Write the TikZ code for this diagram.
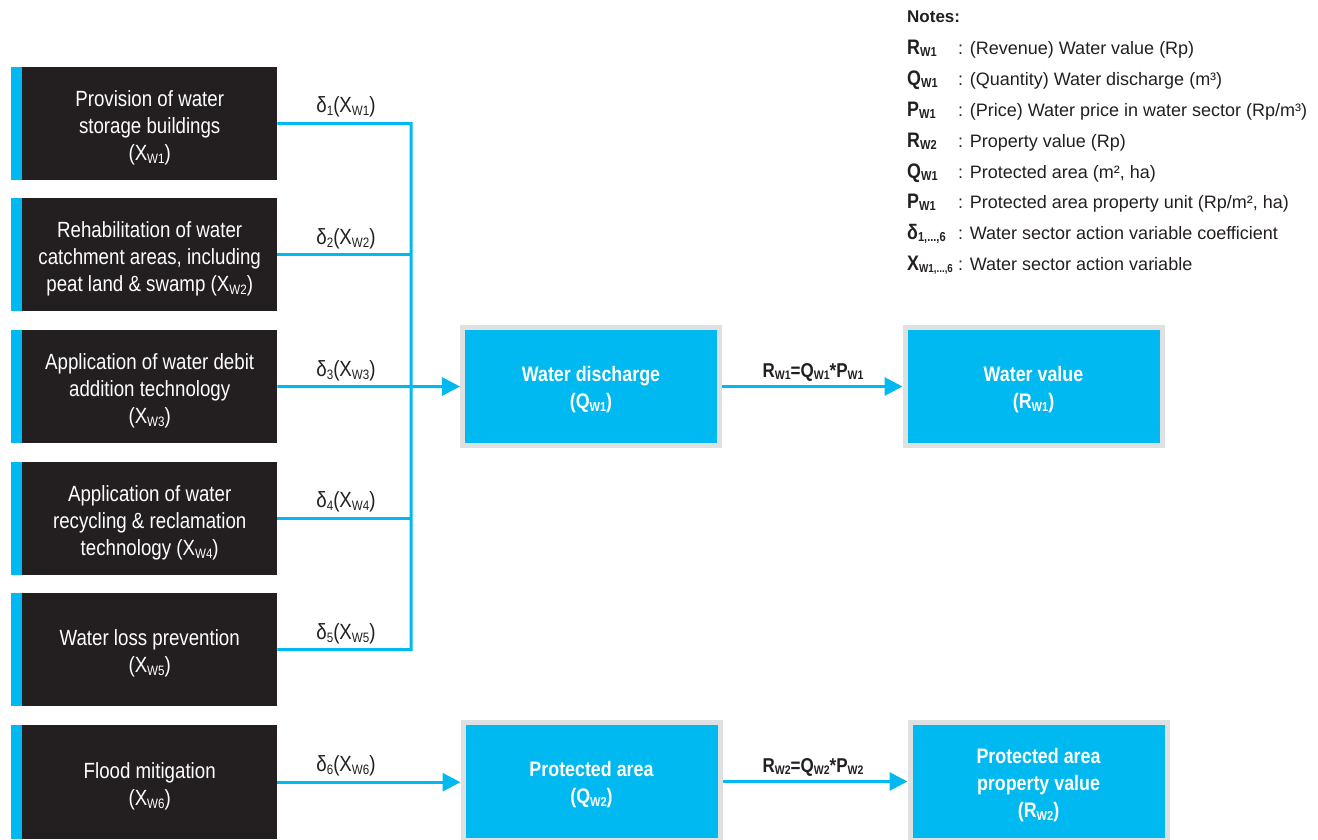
\documentclass[tikz,border=0pt]{standalone}
\usepackage{fontspec}
\usepackage{graphicx}
\setmainfont{Liberation Sans}
\newfontfamily\cond{Liberation Sans}[FakeStretch=0.85]
\usetikzlibrary{arrows.meta}
\definecolor{cblue}{HTML}{00B9F1}
\definecolor{cdark}{HTML}{231F20}
\definecolor{cgray}{HTML}{DFE0E1}
\definecolor{ctext}{HTML}{231F20}
\newcommand\lsb[1]{\raisebox{-0.14em}{\scalebox{0.62}{#1}}}
\begin{document}
\begin{tikzpicture}[x=1pt,y=-1pt,
 actbox/.style={fill=cdark,minimum width=255pt,minimum height=113pt,inner sep=0pt,anchor=north west},
 acttext/.style={text=white,inner sep=0pt,align=center,yshift=-4pt,font=\cond\fontsize{22}{27}\selectfont},
 outbox/.style={fill=cblue,draw=cgray,line width=5pt,minimum width=257pt,minimum height=118pt,inner sep=0pt},
 outtext/.style={text=white,inner sep=0pt,align=center,yshift=-3pt,font=\cond\bfseries\fontsize{21}{27}\selectfont},
 link/.style={draw=cblue,line width=3pt},
 arr/.style={link,-{Triangle[length=18pt,width=18pt]}},
 dlab/.style={font=\cond\fontsize{22}{24}\selectfont,text=ctext,anchor=base,inner sep=0pt},
 flab/.style={font=\cond\bfseries\fontsize{20}{22}\selectfont,text=ctext,anchor=base,inner sep=0pt},
 note/.style={anchor=base west,inner sep=0pt,font=\fontsize{18}{20}\selectfont,text=ctext},
 nsym/.style={anchor=base west,inner sep=0pt,font=\cond\bfseries\fontsize{21}{22}\selectfont,text=ctext}]
\useasboundingbox (0,0) rectangle (1318,839);
\clip (0,0) rectangle (1318,839);

% action boxes
\node[actbox] (b1) at (22,67) {};
\node[actbox] (b2) at (22,198) {};
\node[actbox] (b3) at (22,330) {};
\node[actbox] (b4) at (22,462) {};
\node[actbox] (b5) at (22,593) {};
\node[actbox,minimum height=114pt] (b6) at (22,725) {};
\foreach \b in {b1,b2,b3,b4,b5,b6}
  \fill[cblue] (\b.north west) rectangle ([xshift=-11pt]\b.south west);
\node[acttext] (b1t) at (b1.center) {Provision of water\\storage buildings\\(X\lsb{W1})};
\node[acttext] (b2t) at (b2.center) {Rehabilitation of water\\catchment areas, including\\peat land \& swamp (X\lsb{W2})};
\node[acttext] (b3t) at (b3.center) {Application of water debit\\addition technology\\(X\lsb{W3})};
\node[acttext] (b4t) at (b4.center) {Application of water\\recycling \& reclamation\\technology (X\lsb{W4})};
\node[acttext] (b5t) at (b5.center) {Water loss prevention\\(X\lsb{W5})};
\node[acttext] (b6t) at ([yshift=-0.5pt]b6.center) {Flood mitigation\\(X\lsb{W6})};

% output boxes
\node[outbox] (wd) at (591,386.5) {};
\node[outbox] (wv) at (1033.5,386.5) {};
\node[outbox] (pa) at (591.5,781.5) {};
\node[outbox] (pv) at (1038.5,781.5) {};
\node[outtext] (wdt) at (wd.center) {Water discharge\\(Q\lsb{W1})};
\node[outtext] (wvt) at (wv.center) {Water value\\(R\lsb{W1})};
\node[outtext] (pat) at (pa.center) {Protected area\\(Q\lsb{W2})};
\node[outtext] (pvt) at ([yshift=-1pt]pv.center) {Protected area\\property value\\(R\lsb{W2})};

% connectors
\coordinate (jt) at (411,123.5);
\coordinate (jb) at (411,649.5);
\draw[link] (b1.east) -- (jt) -- (jb) -- (b5.east);
\draw[link] (b2.east) -- (b2.east -| jt);
\draw[link] (b4.east) -- (b4.east -| jt);
\draw[arr] (b3.east) -- (wd.west);
\draw[arr] (wd.east) -- (wv.west);
\draw[arr] (b6.east) -- (b6.east -| pa.west);
\draw[arr] (pa.east) -- (pv.west);

% labels
\node[dlab] (l1) at (346,112) {δ\lsb{1}(X\lsb{W1})};
\node[dlab] (l2) at (346,244) {δ\lsb{2}(X\lsb{W2})};
\node[dlab] (l3) at (346,376) {δ\lsb{3}(X\lsb{W3})};
\node[dlab] (l4) at (346,507) {δ\lsb{4}(X\lsb{W4})};
\node[dlab] (l5) at (346,639) {δ\lsb{5}(X\lsb{W5})};
\node[dlab] (l6) at (346,771) {δ\lsb{6}(X\lsb{W6})};
\node[flab] (f1) at (813,377) {R\lsb{W1}=Q\lsb{W1}*P\lsb{W1}};
\node[flab] (f2) at (813,772) {R\lsb{W2}=Q\lsb{W2}*P\lsb{W2}};

% notes
\node[note,font=\bfseries\fontsize{17}{18}\selectfont] (nh) at (907,22) {Notes:};
\node[nsym] (s1) at (907,54) {R\lsb{W1}};
\node[note] (t1) at (958,54) {: (Revenue) Water value (Rp)};
\node[nsym] (s2) at (907,85) {Q\lsb{W1}};
\node[note] (t2) at (958,85) {: (Quantity) Water discharge (m³)};
\node[nsym] (s3) at (907,116) {P\lsb{W1}};
\node[note] (t3) at (958,116) {: (Price) Water price in water sector (Rp/m³)};
\node[nsym] (s4) at (907,147) {R\lsb{W2}};
\node[note] (t4) at (958,147) {: Property value (Rp)};
\node[nsym] (s5) at (907,178) {Q\lsb{W1}};
\node[note] (t5) at (958,178) {: Protected area (m², ha)};
\node[nsym] (s6) at (907,208) {P\lsb{W1}};
\node[note] (t6) at (958,208) {: Protected area property unit (Rp/m², ha)};
\node[nsym] (s7) at (907,239) {δ\lsb{1,...,6}};
\node[note] (t7) at (958,239) {: Water sector action variable coefficient};
\node[nsym] (s8) at (907,270) {X\raisebox{-0.14em}{\scalebox{0.55}{W1,...,6}}};
\node[note] (t8) at (958,270) {: Water sector action variable};
\end{tikzpicture}
\end{document}
